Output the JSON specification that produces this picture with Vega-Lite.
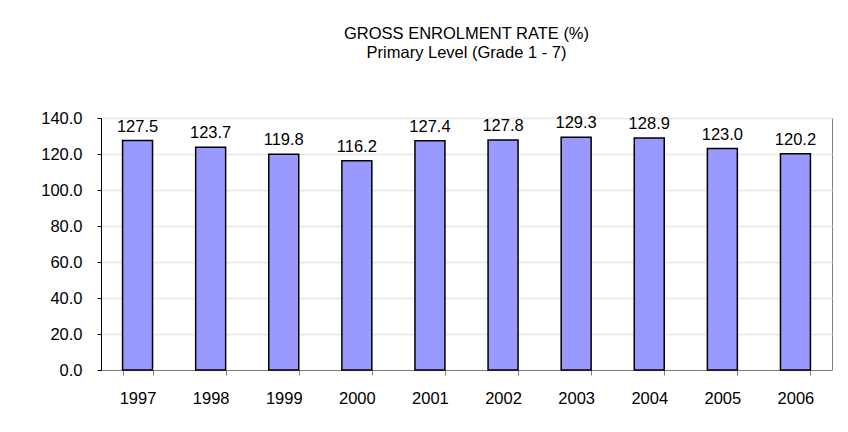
{
  "$schema": "https://vega.github.io/schema/vega-lite/v6.json",
  "autosize": "none",
  "width": 731,
  "height": 252,
  "padding": {"left": 101, "top": 118, "right": 16, "bottom": 62},
  "background": "white",
  "title": {
    "text": ["GROSS ENROLMENT RATE (%)", "Primary Level (Grade 1 - 7)"],
    "font": "Liberation Sans",
    "fontSize": 16.5,
    "fontWeight": "normal",
    "color": "black",
    "anchor": "middle",
    "lineHeight": 18.5,
    "offset": 49
  },
  "config": {
    "font": "Liberation Sans",
    "view": {"stroke": "#808080", "strokeWidth": 1}
  },
  "data": {
    "values": [
      {"year": "1997", "rate": 127.5},
      {"year": "1998", "rate": 123.7},
      {"year": "1999", "rate": 119.8},
      {"year": "2000", "rate": 116.2},
      {"year": "2001", "rate": 127.4},
      {"year": "2002", "rate": 127.8},
      {"year": "2003", "rate": 129.3},
      {"year": "2004", "rate": 128.9},
      {"year": "2005", "rate": 123.0},
      {"year": "2006", "rate": 120.2}
    ]
  },
  "encoding": {
    "x": {
      "field": "year",
      "type": "nominal",
      "sort": null,
      "scale": {"paddingInner": 0.59, "paddingOuter": 0.295},
      "axis": {
        "title": null,
        "labelAngle": 0,
        "labelFont": "Liberation Sans",
        "labelFontSize": 16.5,
        "labelColor": "black",
        "labelPadding": 15,
        "tickBand": "extent",
        "tickSize": 5,
        "tickColor": "#808080",
        "domainColor": "#808080",
        "grid": false
      }
    },
    "y": {
      "field": "rate",
      "type": "quantitative",
      "scale": {"domain": [0, 140], "nice": false},
      "axis": {
        "title": null,
        "values": [0, 20, 40, 60, 80, 100, 120, 140],
        "format": ".1f",
        "labelFont": "Liberation Sans",
        "labelFontSize": 16.5,
        "labelColor": "black",
        "labelPadding": 15,
        "tickSize": 4,
        "tickColor": "black",
        "domainColor": "black",
        "grid": true,
        "gridColor": "#e6e6e6",
        "gridWidth": 1.5
      }
    }
  },
  "layer": [
    {
      "mark": {"type": "bar", "fill": "#9999FF", "stroke": "black", "strokeWidth": 1.5}
    },
    {
      "mark": {"type": "text", "baseline": "middle", "dy": -14, "font": "Liberation Sans", "fontSize": 16.5, "color": "black"},
      "encoding": {"text": {"field": "rate", "type": "quantitative", "format": ".1f"}}
    }
  ]
}
